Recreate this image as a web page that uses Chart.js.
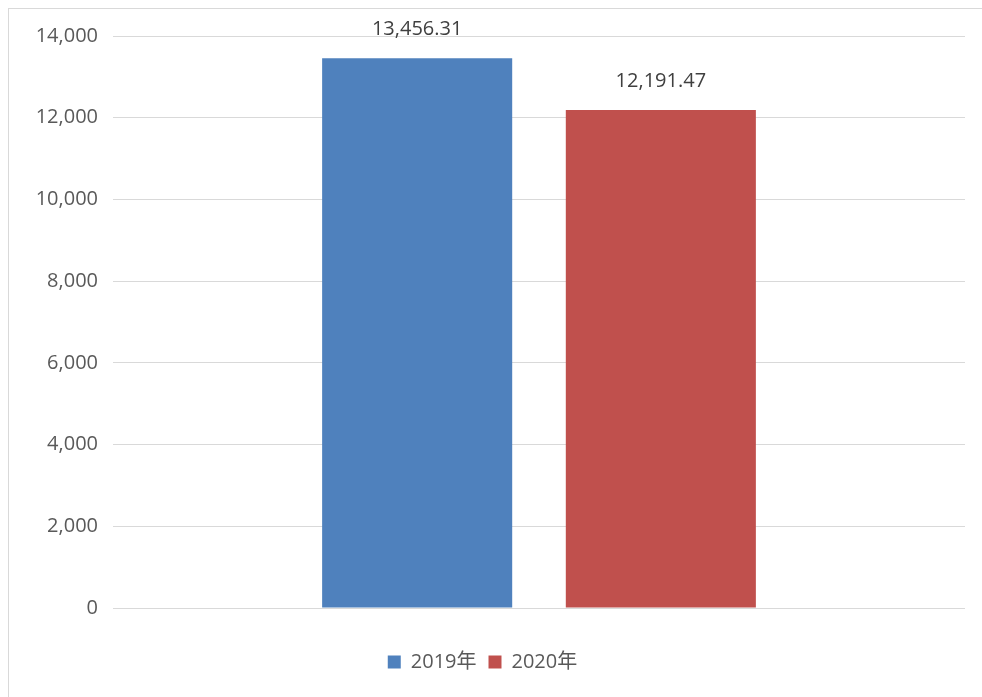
<!DOCTYPE html>
<html>
<head>
<meta charset="utf-8">
<script src="https://cdn.jsdelivr.net/npm/chart.js@4"></script>
<style>
  html, body { margin: 0; padding: 0; background: #fff; }
  #wrap { position: absolute; left: 8px; top: 8px; width: 980px; height: 695px; border: 1px solid #d9d9d9; border-right: none; border-bottom: none; box-sizing: border-box; }
  #chart-container { position: absolute; left: 0; top: 0; width: 982px; height: 697px; }
</style>
</head>
<body>
<div id="wrap"></div>
<div id="chart-container"><canvas id="salesChart"></canvas></div>
<script>
const categories = [""];
const seriesNames = ["2019年", "2020年"];
const values2019 = [13456.31];
const values2020 = [12191.47];
const yTicks = [0, 2000, 4000, 6000, 8000, 10000, 12000, 14000];

const fontFamily = "'Open Sans', 'Noto Sans CJK SC', sans-serif";

const barLabels = {
    id: 'barLabels',
    afterDatasetsDraw(chart) {
        const ctx = chart.ctx;
        ctx.save();
        ctx.fillStyle = '#404040';
        ctx.font = "20px " + fontFamily;
        ctx.textAlign = 'center';
        ctx.textBaseline = 'middle';
        chart.data.datasets.forEach((ds, i) => {
            chart.getDatasetMeta(i).data.forEach((bar, j) => {
                const txt = ds.data[j].toLocaleString('en-US', { minimumFractionDigits: 2, maximumFractionDigits: 2 });
                ctx.fillText(txt, bar.x, bar.y - 29);
            });
        });
        ctx.restore();
    }
};

const ctx = document.getElementById('salesChart').getContext('2d');
new Chart(ctx, {
    type: 'bar',
    data: {
        labels: categories,
        datasets: [{
            label: seriesNames[0],
            data: values2019,
            backgroundColor: '#4f81bd'
        }, {
            label: seriesNames[1],
            data: values2020,
            backgroundColor: '#c0504d'
        }]
    },
    options: {
        responsive: true,
        maintainAspectRatio: false,
        animation: false,
        categoryPercentage: 0.572,
        barPercentage: 0.78,
        layout: { padding: { top: 36, right: 17, left: 0, bottom: 15 } },
        plugins: {
            legend: {
                position: 'bottom',
                labels: {
                    boxWidth: 13,
                    boxHeight: 13,
                    padding: 12,
                    color: '#595959',
                    font: { size: 20, family: fontFamily }
                }
            },
            tooltip: { enabled: false }
        },
        scales: {
            x: {
                afterFit(axis) { axis.height = 32; },
                grid: { display: false },
                border: { display: false },
                ticks: { display: false }
            },
            y: {
                min: 0,
                max: 14000,
                afterFit(axis) { axis.width = 113; },
                afterBuildTicks(axis) { axis.ticks = yTicks.map(v => ({ value: v })); },
                grid: { color: '#d9d9d9', drawTicks: false, lineWidth: 1 },
                border: { display: false },
                ticks: {
                    padding: 15,
                    color: '#595959',
                    font: { size: 20, family: fontFamily },
                    callback: v => v.toLocaleString('en-US')
                }
            }
        }
    },
    plugins: [barLabels]
});
</script>
</body>
</html>
